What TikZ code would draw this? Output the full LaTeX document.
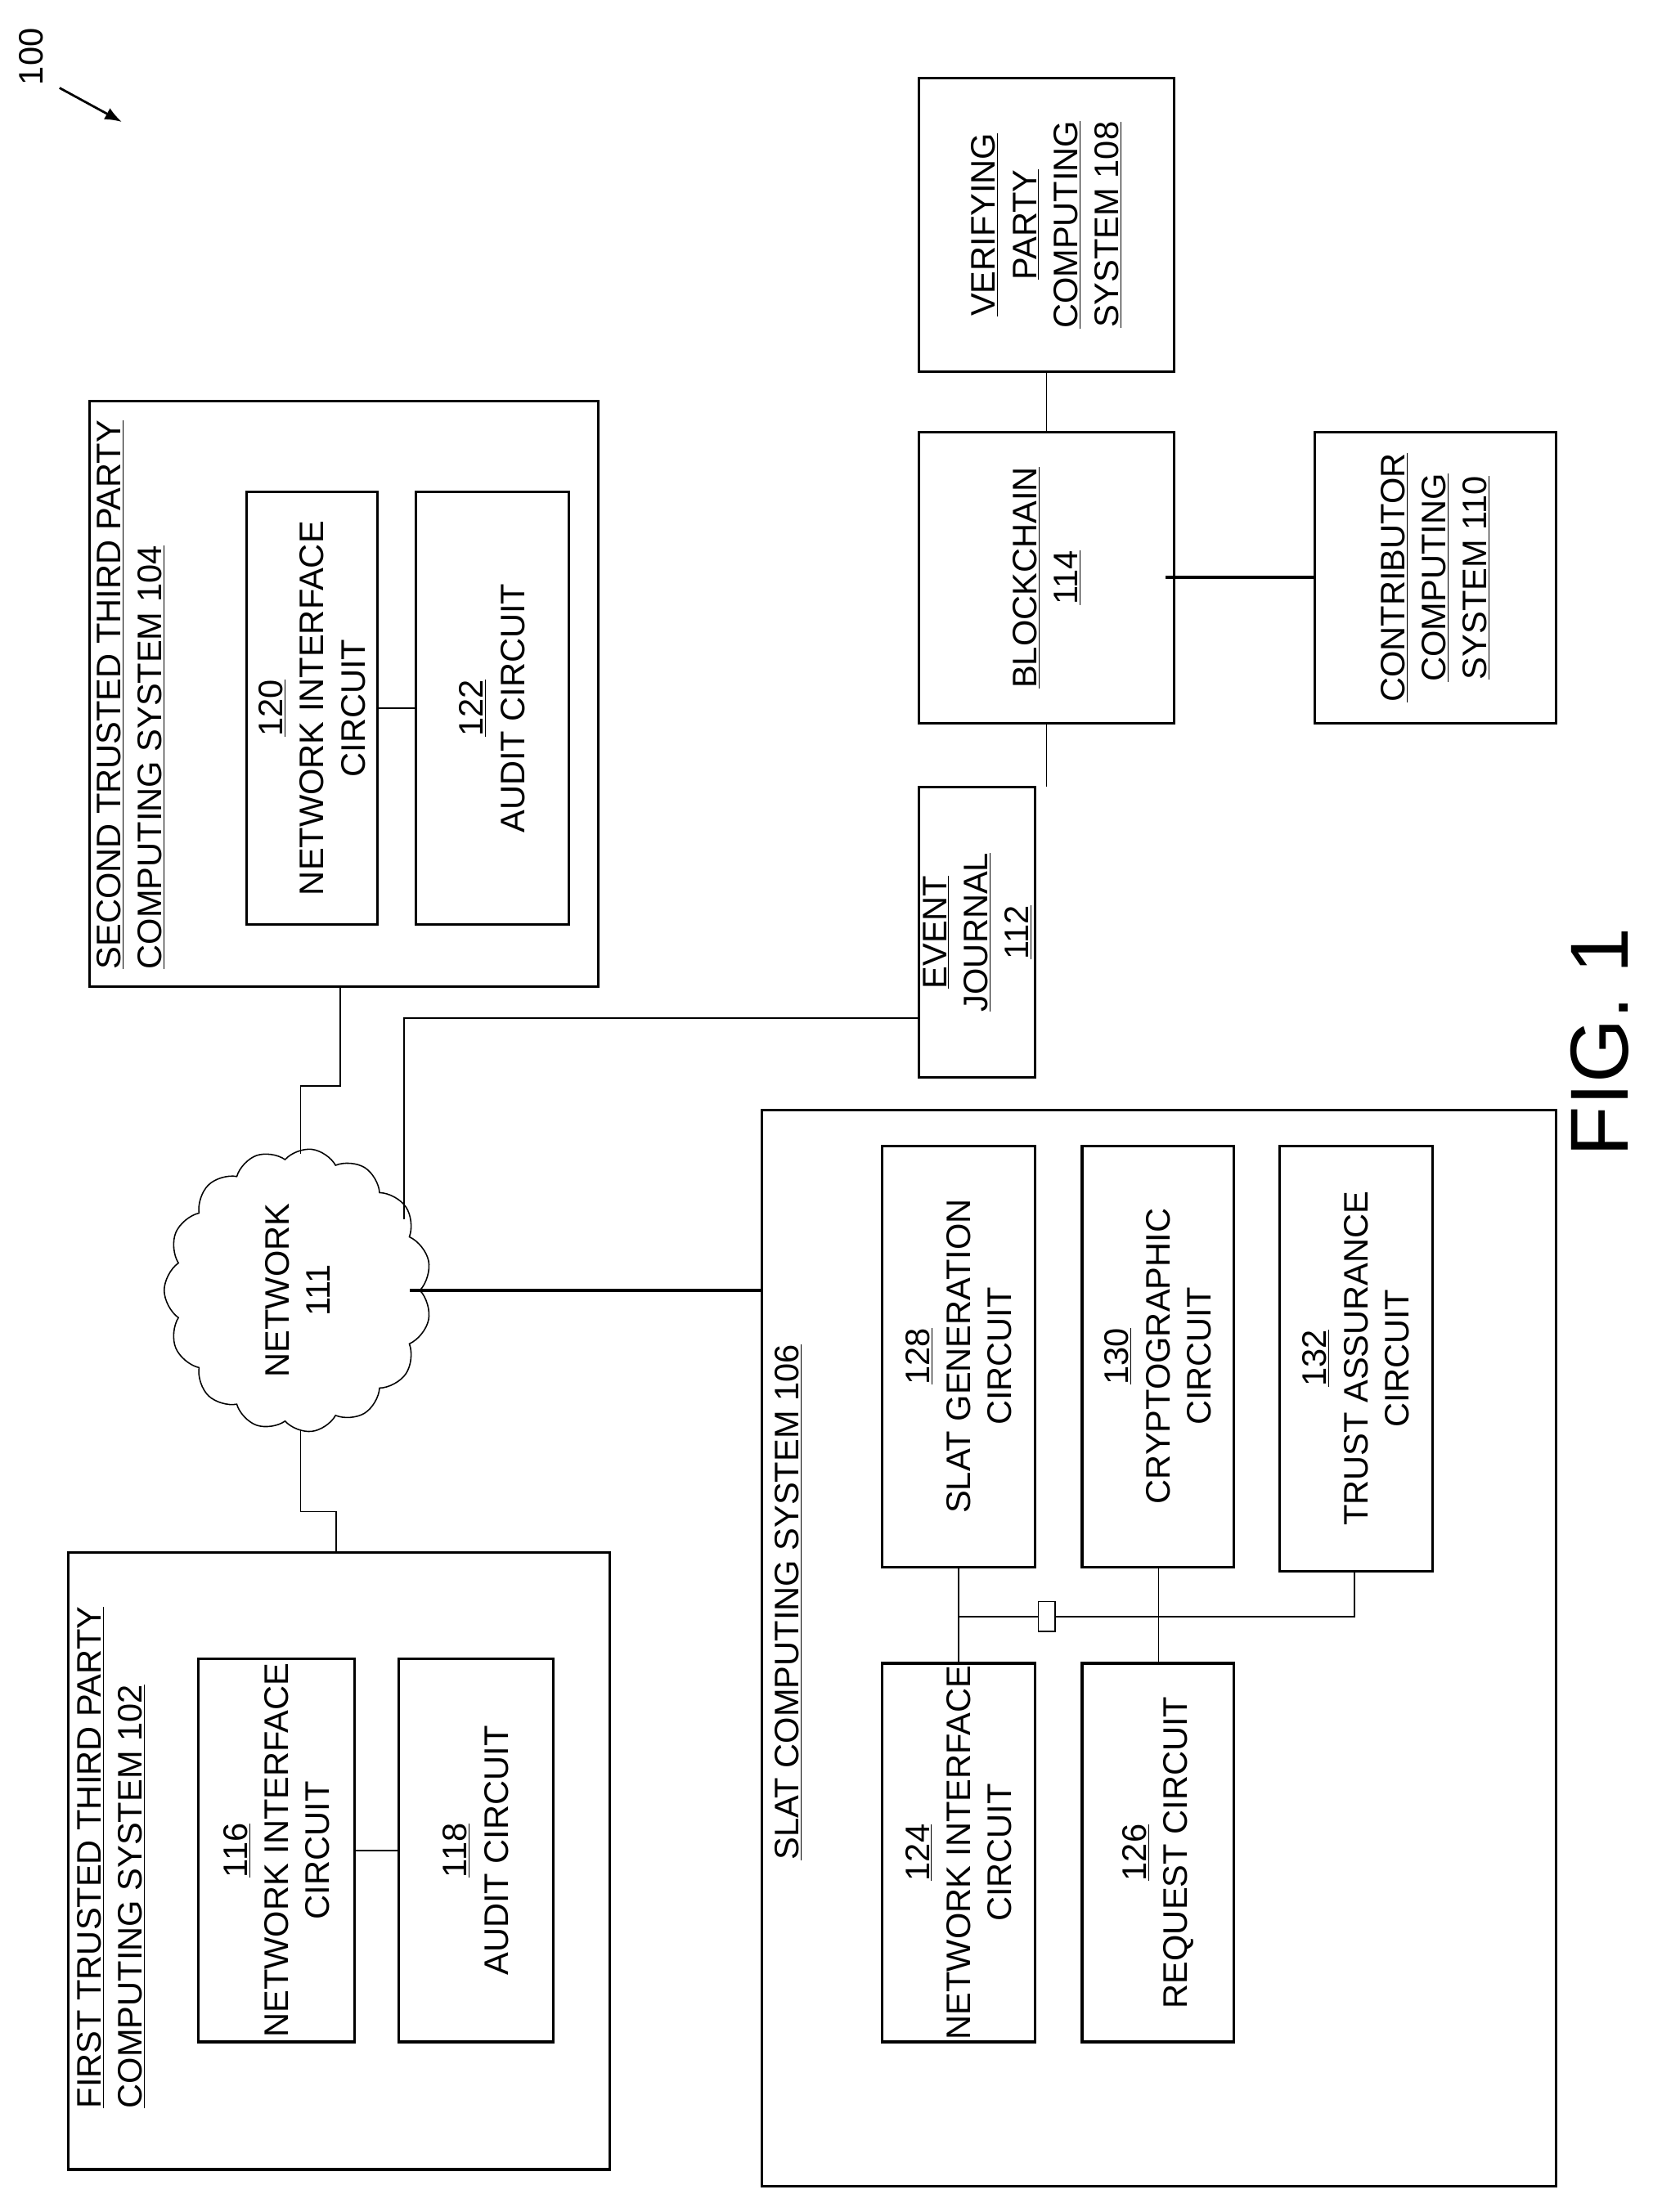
\documentclass[tikz,border=0pt]{standalone}
\usepackage{fontspec}
\setmainfont{Liberation Sans}
\usetikzlibrary{shapes.symbols,calc,arrows.meta}
\tikzset{
    box/.style =    {rectangle,
                    draw=black,
                    line width=1.8pt,
                    fill=white,
                    rotate=90,
                    inner sep=0pt},
    txt/.style =    {rotate=90,
                    align=center,
                    font=\fontsize{24}{29}\selectfont,
                    inner sep=0pt},
    wire/.style =   {draw=black, line width=0.9pt},
    bold/.style =   {draw=black, line width=2.2pt},
    -,
    x=1pt, y=-1pt}

\begin{document}
\begin{tikzpicture}
    \useasboundingbox (0,0) rectangle (1165,1560);
    % outer boxes
    \node[box, minimum width=413, minimum height=359] (S104) at (242.5,489.5) {};
    \node[box, minimum width=435, minimum height=382] (S102) at (239,1312.5) {};
    \node[box, minimum width=759, minimum height=560] (S106) at (817,1162.5) {};
    \node[box, minimum width=205, minimum height=82]  (EJ)   at (689,657.5) {};
    \node[box, minimum width=205, minimum height=180] (BC)   at (738,407.5) {};
    \node[box, minimum width=207, minimum height=180] (VP)   at (738,158.5) {};
    \node[box, minimum width=205, minimum height=170] (CC)   at (1012,407.5) {};
    % inner boxes
    \node[box, minimum width=305, minimum height=92]  (C120) at (220,499.5) {};
    \node[box, minimum width=305, minimum height=108] (C122) at (347,499.5) {};
    \node[box, minimum width=270, minimum height=110] (C116) at (195,1305) {};
    \node[box, minimum width=270, minimum height=109] (C118) at (335.5,1305) {};
    \node[box, minimum width=297, minimum height=108] (C128) at (676,956.5) {};
    \node[box, minimum width=297, minimum height=107] (C130) at (816.5,956.5) {};
    \node[box, minimum width=300, minimum height=108] (C132) at (956,958) {};
    \node[box, minimum width=267, minimum height=108] (C124) at (676,1306.5) {};
    \node[box, minimum width=267, minimum height=107] (C126) at (816.5,1306.5) {};
    % network cloud
    \node[cloud, cloud puffs=15, cloud puff arc=110, draw, line width=0.9pt,
          minimum width=200, minimum height=150, txt] (N) at (210,910) {NETWORK\\111};
    % titles
    \node[txt, align=left, anchor=north] (T104) at (68,490) {\underline{SECOND TRUSTED THIRD PARTY}\\\underline{COMPUTING SYSTEM 104}};
    \node[txt, align=left, anchor=north] (T102) at (54,1310) {\underline{FIRST TRUSTED THIRD PARTY}\\\underline{COMPUTING SYSTEM 102}};
    \node[txt, anchor=north] (T106) at (546,1130) {\underline{SLAT COMPUTING SYSTEM 106}};
    \node[txt] at (EJ) {\underline{EVENT}\\\underline{JOURNAL}\\\underline{112}};
    \node[txt] at (BC) {\underline{BLOCKCHAIN}\\\underline{114}};
    \node[txt] at (VP) {\underline{VERIFYING}\\\underline{PARTY}\\\underline{COMPUTING}\\\underline{SYSTEM 108}};
    \node[txt] at (CC) {\underline{CONTRIBUTOR}\\\underline{COMPUTING}\\\underline{SYSTEM 110}};
    \node[txt] at (C120) {\underline{120}\\NETWORK INTERFACE\\CIRCUIT};
    \node[txt] at (C122) {\underline{122}\\AUDIT CIRCUIT};
    \node[txt] at (C116) {\underline{116}\\NETWORK INTERFACE\\CIRCUIT};
    \node[txt] at (C118) {\underline{118}\\AUDIT CIRCUIT};
    \node[txt] at (C128) {\underline{128}\\SLAT GENERATION\\CIRCUIT};
    \node[txt] at (C130) {\underline{130}\\CRYPTOGRAPHIC\\CIRCUIT};
    \node[txt] at (C132) {\underline{132}\\TRUST ASSURANCE\\CIRCUIT};
    \node[txt] at (C124) {\underline{124}\\NETWORK INTERFACE\\CIRCUIT};
    \node[txt] at (C126) {\underline{126}\\REQUEST CIRCUIT};
    \node[txt, font=\fontsize{58}{64}\selectfont] (FIG) at (1128,735) {FIG. 1};
    \node[txt] (L100) at (22,40) {100};
    \coordinate (A1) at (42,62);
    \coordinate (A2) at (86,86);
    \draw[wire, line width=1.6pt, -{Latex[length=12pt,width=9pt]}] (A1) -- (A2);
    % connectors
    \coordinate (N1) at (212,814);
    \coordinate (N2) at (212,1008);
    \coordinate (N3) at (285,860);
    \coordinate (N4) at (289,910);
    \coordinate (B1) at (822,407);
    \draw[wire] (C120) -- (C122);
    \draw[wire] (C116) -- (C118);
    \draw[wire] (240,696) |- (212,766) -- (N1);
    \draw[wire] (N2) -- (212,1066) -| (237,1095);
    \draw[wire] (N3) |- (648,718);
    \draw[bold] (N4) -- (537,910);
    \draw[wire] (738,262) -- (738,305);
    \draw[wire] (738,510) -- (738,555);
    \draw[bold] (B1) -- (927,407);
    % circuit bus
    \coordinate (J1) at (676,1140);
    \coordinate (J2) at (817,1140);
    \coordinate (J3) at (955,1140);
    \draw[wire] (676,1105) -- (676,1173);
    \draw[wire] (817,1105) -- (817,1173);
    \draw[wire] (J1) -- (J3) -- (955,1108);
    \node[draw, line width=0.7pt, fill=white, minimum width=12, minimum height=21, inner sep=0pt] (JB) at (738,1140) {};
\end{tikzpicture}
\end{document}
